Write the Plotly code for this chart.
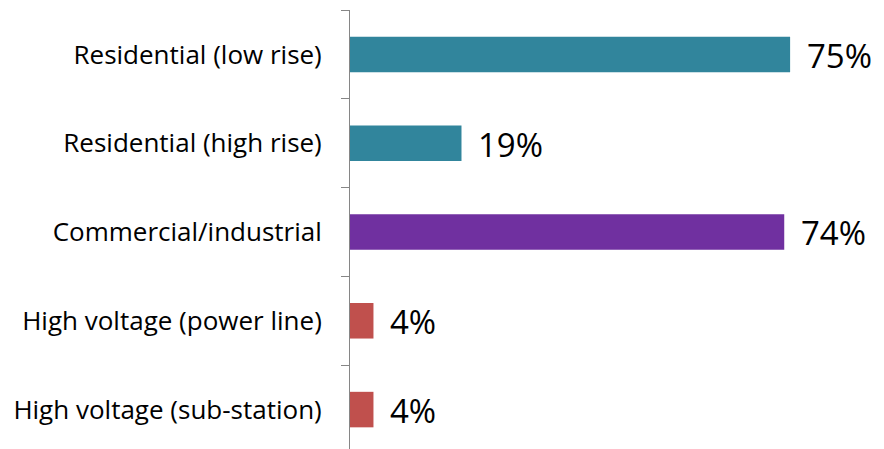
import plotly.graph_objects as go

categories = ["Residential (low rise)", "Residential (high rise)", "Commercial/industrial",
              "High voltage (power line)", "High voltage (sub-station)"]
values = [75, 19, 74, 4, 4]
labels = ["75%", "19%", "74%", "4%", "4%"]
colors = ["#31859C", "#31859C", "#7030A0", "#C0504D", "#C0504D"]

FONT = "Open Sans"

fig = go.Figure(go.Bar(
    x=values, y=categories, orientation="h",
    marker=dict(color=colors, line=dict(width=0)),
    hoverinfo="skip",
))

for c, v, t in zip(categories, values, labels):
    fig.add_annotation(x=v, y=c, text=t, showarrow=False, xanchor="left", yanchor="middle",
                       xshift=15, yshift=-1, font=dict(family=FONT, size=33, color="#000000"))

# page body has an 8px margin, so the figure is offset by 8px
fig.update_layout(
    width=876, height=441,
    margin=dict(l=342, r=0, t=2, b=0, autoexpand=False),
    paper_bgcolor="white", plot_bgcolor="white",
    bargap=0.6,
    showlegend=False,
    font=dict(family=FONT, color="#000000"),
)
fig.update_xaxes(range=[0, 91], visible=False)
fig.update_yaxes(
    type="category", categoryorder="array", categoryarray=categories,
    range=[4.444, -0.5],
    showline=True, linecolor="#868686", linewidth=1,
    ticks="outside", tickson="boundaries", ticklen=8, tickcolor="#868686",
    tickfont=dict(family=FONT, size=26, color="#000000"),
    ticklabelstandoff=22,
    showgrid=False, zeroline=False,
)

fig.write_html("out.html")
